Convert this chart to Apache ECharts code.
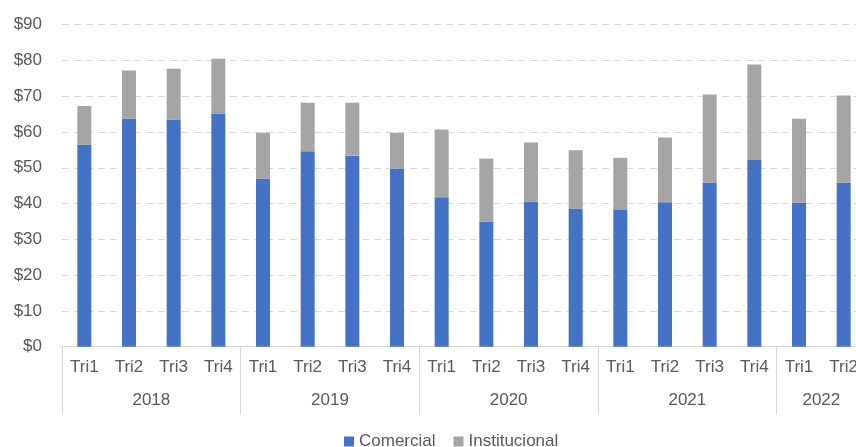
<!DOCTYPE html>
<html>
<head>
<meta charset="utf-8">
<script src="https://cdn.jsdelivr.net/npm/echarts@6/dist/echarts.min.js"></script>
<style>
html,body{margin:0;padding:0;background:#fff;}
#chart{width:856px;height:447px;}
</style>
</head>
<body>
<div id="chart"></div>
<script>
const quarters = ['Tri1','Tri2','Tri3','Tri4','Tri1','Tri2','Tri3','Tri4','Tri1','Tri2','Tri3','Tri4','Tri1','Tri2','Tri3','Tri4','Tri1','Tri2'];
const years = ['2018','2019','2020','2021','2022'];
const yearLabelPos = [2, 6, 10, 14, 17];
const yearBounds = [0, 4, 8, 12, 16, 18];
const comercial = [56.4, 63.8, 63.4, 65.2, 47.0, 54.6, 53.4, 49.8, 41.8, 35.0, 40.6, 38.6, 38.2, 40.4, 45.9, 52.2, 40.2, 45.8];
const institucional = [10.9, 13.4, 14.3, 15.3, 12.8, 13.6, 14.8, 10.0, 18.9, 17.6, 16.5, 16.3, 14.6, 18.1, 24.6, 26.7, 23.5, 24.4];
const yTicks = {min: 0, max: 90, interval: 10};

const FONT = '"Liberation Sans", Arial, sans-serif';
const TXT = '#595959';
const chart = echarts.init(document.getElementById('chart'), null, {renderer: 'canvas'});
chart.setOption({
  animation: false,
  grid: {left: 62, width: 804, top: 24.7, height: 322, containLabel: false, outerBoundsMode: 'none'},
  legend: {
    left: 339, top: 428,
    itemWidth: 10, itemHeight: 10, itemGap: 18,
    icon: 'rect',
    textStyle: {color: TXT, fontSize: 17, fontFamily: FONT},
    data: ['Comercial', 'Institucional']
  },
  xAxis: [{
    type: 'category',
    data: quarters,
    axisLine: {lineStyle: {color: '#d9d9d9', width: 1}},
    axisTick: {show: false},
    axisLabel: {color: TXT, fontSize: 17, fontFamily: FONT, margin: 12, interval: 0}
  }, {
    type: 'value',
    position: 'bottom',
    min: 0, max: 18,
    axisLine: {show: false},
    splitLine: {show: false},
    axisTick: {show: true, customValues: yearBounds, length: 68, lineStyle: {color: '#d9d9d9', width: 1}},
    axisLabel: {
      customValues: yearLabelPos,
      color: TXT, fontSize: 17, fontFamily: FONT, margin: 45,
      formatter: function (v) { const i = yearLabelPos.indexOf(v); return i >= 0 ? years[i] : ''; }
    }
  }],
  yAxis: {
    type: 'value',
    min: yTicks.min, max: yTicks.max, interval: yTicks.interval,
    axisLine: {show: false},
    axisTick: {show: false},
    axisLabel: {color: TXT, fontSize: 17, fontFamily: FONT, margin: 20, formatter: v => '$' + v},
    splitLine: {lineStyle: {color: '#d9d9d9', type: [7, 5], width: 1}}
  },
  series: [{
    name: 'Comercial', type: 'bar', stack: 'total', barWidth: 14,
    itemStyle: {color: '#4472C4'},
    data: comercial
  }, {
    name: 'Institucional', type: 'bar', stack: 'total', barWidth: 14,
    itemStyle: {color: '#A5A5A5'},
    data: institucional
  }]
});
</script>
</body>
</html>
